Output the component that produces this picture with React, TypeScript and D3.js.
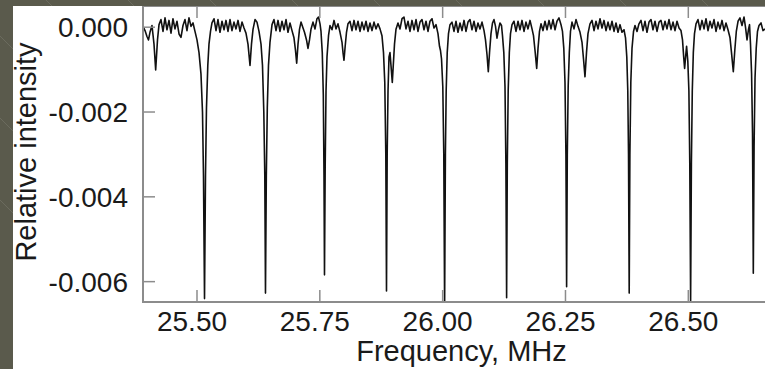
import React from "react";
import * as d3 from "d3";

// Spectrum: [frequency (MHz), relative intensity]
const SPECTRUM: [number, number][] = [
  [25.3901, 0.00002], [25.3942, -0.00008], [25.3982, -0.00022], [25.4013, -0.0003], [25.4043, -0.00012],
  [25.4084, 0.00004], [25.4125, -0.0004], [25.4159, -0.00101], [25.4196, -0.0003], [25.4227, 0.00006],
  [25.4267, 0.00018], [25.4308, -0.0001], [25.4349, 0.00022], [25.4389, -0.00006], [25.443, 0.00016],
  [25.4471, -0.00014], [25.4511, 0.0002], [25.4552, -0.00004], [25.4593, 0.00014], [25.4634, -0.00016],
  [25.4674, -0.00024], [25.4715, 0.00004], [25.4756, 0.00018], [25.4796, -0.00008], [25.4837, 0.00022],
  [25.4878, 0.00002], [25.4919, 0.0001], [25.4959, -0.0001], [25.5, -0.0003], [25.5041, -0.0006],
  [25.5081, -0.0011], [25.5112, -0.002], [25.5132, -0.0035], [25.5153, -0.0064], [25.5173, -0.0035],
  [25.5193, -0.0019], [25.522, -0.0009], [25.5244, -0.0004], [25.5275, -0.0001], [25.5305, 0.0001],
  [25.5346, 0.0002], [25.5387, -0.00008], [25.5427, 0.00018], [25.5468, -0.00012], [25.5509, 0.00014],
  [25.555, -0.00006], [25.559, 0.00016], [25.5631, -0.0001], [25.5672, 0.00018], [25.5712, -0.00008],
  [25.5753, 0.00012], [25.5794, -0.00004], [25.5835, 0.00016], [25.5875, -0.0001], [25.5916, 0.00012],
  [25.5957, -0.00002], [25.5997, -0.00014], [25.6038, -0.0004], [25.6079, -0.0009], [25.6109, -0.0004],
  [25.614, -0.00005], [25.6181, 0.00018], [25.6221, 0.00012], [25.6262, -0.0001], [25.6303, -0.0004],
  [25.6333, -0.0009], [25.636, -0.002], [25.638, -0.0035], [25.6394, -0.00627], [25.6411, -0.0035],
  [25.6431, -0.0019], [25.6455, -0.0009], [25.6486, -0.00035], [25.6527, 0.00006], [25.6567, 0.00018],
  [25.6608, -0.00008], [25.6649, 0.00016], [25.6689, -0.0001], [25.673, 0.00014], [25.6771, -0.00006],
  [25.6812, 0.00018], [25.6852, -0.00012], [25.6893, 0.0001], [25.6934, -0.00008], [25.6974, -0.00025],
  [25.7005, -0.00055], [25.7029, -0.00085], [25.7056, -0.0004], [25.7086, -0.00005], [25.7117, 0.00012],
  [25.7158, -0.00002], [25.7188, -0.00012], [25.7229, -0.0003], [25.7259, -0.0005], [25.729, -0.0003],
  [25.732, -0.00005], [25.7361, 0.00012], [25.7402, -0.00004], [25.7442, 0.0002], [25.7473, 0.00024],
  [25.7504, 0.00008], [25.7524, -0.0001], [25.755, -0.0006], [25.7571, -0.0016], [25.7585, -0.0035],
  [25.7595, -0.00584], [25.7609, -0.0033], [25.7626, -0.0015], [25.7646, -0.0007], [25.7677, -0.0002],
  [25.7707, 0.00004], [25.7748, -0.00006], [25.7789, 0.00016], [25.7829, -0.00004], [25.787, 0.00008],
  [25.7911, -0.00012], [25.7951, -0.00035], [25.7972, -0.0006], [25.7992, -0.00078], [25.8016, -0.00045],
  [25.8043, -0.00012], [25.8073, 0.00008], [25.8114, 0.00014], [25.8155, -0.00008], [25.8196, 0.00016],
  [25.8236, -0.00006], [25.8277, 0.00014], [25.8318, -0.0001], [25.8358, 0.00012], [25.8399, -0.00006],
  [25.844, 0.00014], [25.8481, -0.0001], [25.8521, 0.0001], [25.8562, -0.00008], [25.8603, 0.00012],
  [25.8643, -0.00004], [25.8684, 0.00008], [25.8725, -0.00004], [25.8765, -0.0002], [25.8796, -0.0006],
  [25.8822, -0.0013], [25.8843, -0.003], [25.8857, -0.00622], [25.8871, -0.003], [25.8888, -0.0015],
  [25.8908, -0.0007], [25.8928, -0.0006], [25.8955, -0.001], [25.8975, -0.0013], [25.8995, -0.0009],
  [25.902, -0.0004], [25.905, -0.00005], [25.9091, 0.0001], [25.9132, -0.00004], [25.9173, 0.0002],
  [25.9213, 0.00024], [25.9254, -0.00004], [25.9295, 0.00014], [25.9335, -0.0001], [25.9376, 0.00016],
  [25.9417, -0.00006], [25.9458, 0.00018], [25.9498, -0.0001], [25.9539, 0.00012], [25.958, 0.00018],
  [25.962, -0.00006], [25.9661, 0.00014], [25.9702, -0.0001], [25.9742, 0.00014], [25.9783, 0.0002],
  [25.9824, -0.00002], [25.9865, 0.00006], [25.9905, -0.00015], [25.9936, -0.00045], [25.9956, -0.00055],
  [25.9977, -0.00075], [26.0003, -0.0014], [26.0023, -0.003], [26.004, -0.0066], [26.0056, -0.003],
  [26.0072, -0.0015], [26.0093, -0.0006], [26.0119, -0.00015], [26.015, 0.00006], [26.019, 0.00012],
  [26.0231, -0.0001], [26.0272, 0.00014], [26.0312, -0.00012], [26.0353, 0.0001], [26.0394, -0.00008],
  [26.0435, 0.00016], [26.0475, -0.0001], [26.0516, 0.00012], [26.0557, 0.00018], [26.0597, -0.00006],
  [26.0638, 0.00014], [26.0679, -0.0001], [26.0719, 0.0001], [26.076, -0.00004], [26.0801, 0.00012],
  [26.0842, -0.00008], [26.0872, -0.0003], [26.0903, -0.00065], [26.0929, -0.00105], [26.0954, -0.0006],
  [26.0984, -0.00015], [26.1015, 0.0001], [26.1045, 0.00018], [26.1076, 0.00002], [26.1106, -0.00026],
  [26.1137, -0.00005], [26.1167, 0.0001], [26.1198, 0.00004], [26.1218, -0.0002], [26.1245, -0.0006],
  [26.1269, -0.0014], [26.1287, -0.0032], [26.1302, -0.00638], [26.1316, -0.0032], [26.1334, -0.0015],
  [26.1357, -0.0006], [26.1381, -0.00015], [26.1412, 0.00006], [26.1452, 0.00014], [26.1493, -0.0001],
  [26.1534, 0.00014], [26.1574, -0.00006], [26.1615, 0.00016], [26.1656, -0.0001], [26.1696, 0.00012],
  [26.1737, -0.00004], [26.1778, 0.00016], [26.1819, -0.00004], [26.1849, -0.0002], [26.188, -0.00055],
  [26.1914, -0.00097], [26.1941, -0.0005], [26.1971, -0.0001], [26.2002, 0.00008], [26.2042, -0.00008],
  [26.2083, 0.00014], [26.2124, -0.00006], [26.2165, 0.00016], [26.2205, -0.00004], [26.2246, 0.00018],
  [26.2287, -0.00006], [26.2327, 0.00014], [26.2368, 0.00022], [26.2409, 0.00006], [26.2439, -0.0001],
  [26.2466, -0.0005], [26.249, -0.0013], [26.2509, -0.003], [26.2523, -0.00612], [26.2537, -0.003],
  [26.2555, -0.0014], [26.2578, -0.0006], [26.2602, -0.0001], [26.2633, 0.00012], [26.2673, -0.00004],
  [26.2714, 0.00018], [26.2755, 0.00002], [26.2796, -0.00012], [26.2836, -0.00035], [26.2867, -0.00075],
  [26.2897, -0.00117], [26.2928, -0.0006], [26.2958, -0.00015], [26.2999, 0.00008], [26.304, 0.00016],
  [26.3081, -0.00008], [26.3121, 0.00014], [26.3162, -0.00004], [26.3203, 0.0002], [26.3243, -0.00002],
  [26.3284, 0.00016], [26.3325, -0.00008], [26.3366, 0.00012], [26.3406, -0.00006], [26.3447, 0.00014],
  [26.3488, -0.0001], [26.3528, 0.0001], [26.3569, -0.00012], [26.361, 0.00006], [26.365, -0.00012],
  [26.3691, -0.00006], [26.3722, -0.00025], [26.3748, -0.0007], [26.3768, -0.0015], [26.3783, -0.003],
  [26.3797, -0.00627], [26.3811, -0.003], [26.383, -0.0013], [26.3854, -0.0005], [26.3885, -0.0001],
  [26.3915, 0.00004], [26.3956, -0.0001], [26.3996, 0.00008], [26.4037, 0.00016], [26.4078, -0.00008],
  [26.4119, 0.00014], [26.4159, -0.00012], [26.42, 0.00012], [26.4241, 0.00018], [26.4281, -0.00006],
  [26.4322, 0.00014], [26.4363, -0.0001], [26.4404, 0.00012], [26.4444, 0.00016], [26.4485, -0.00006],
  [26.4526, 0.00014], [26.4566, -0.00004], [26.4607, 0.00018], [26.4648, -0.00006], [26.4689, 0.00012],
  [26.4729, -0.00008], [26.477, 0.00014], [26.4811, -0.00002], [26.4851, -0.00008], [26.4882, -0.0003],
  [26.4906, -0.0007], [26.4925, -0.00097], [26.4945, -0.0007], [26.4965, -0.00045], [26.499, -0.0008],
  [26.5012, -0.0015], [26.503, -0.0032], [26.5047, -0.00645], [26.5063, -0.0032], [26.5081, -0.0015],
  [26.5102, -0.0006], [26.5126, -0.00015], [26.5157, 0.00008], [26.5197, 0.00018], [26.5238, -0.00006],
  [26.5279, 0.00016], [26.532, -0.00004], [26.536, 0.0002], [26.5401, -0.00008], [26.5442, 0.00014],
  [26.5482, -0.00002], [26.5523, 0.00018], [26.5564, -0.0001], [26.5604, 0.00012], [26.5645, -0.00004],
  [26.5686, 0.00016], [26.5727, -0.00008], [26.5767, 0.0001], [26.5808, -0.00006], [26.5849, -0.00025],
  [26.5879, -0.0006], [26.5916, -0.00105], [26.5946, -0.00055], [26.5977, -0.0001], [26.6012, 0.00014],
  [26.6052, 0.00022], [26.6093, 0.00004], [26.6134, 0.00024], [26.6164, 0.0], [26.6195, -0.0003],
  [26.6225, -0.00005], [26.6246, 0.00006], [26.6266, -0.0004], [26.6288, -0.0011], [26.6307, -0.0025],
  [26.6323, -0.0058], [26.6339, -0.0028], [26.6358, -0.0012], [26.6382, -0.0005], [26.6408, -0.0001],
  [26.6439, 0.00004], [26.648, 0.0001], [26.652, -0.00008], [26.6561, -0.00004],
];

const X_DOMAIN = [25.3901, 26.6561];
const Y_DOMAIN = [-0.00648, 0.0005];
const X_TICKS = [25.5, 25.75, 26.0, 26.25, 26.5];
const X_TICK_LABELS = ["25.50", "25.75", "26.00", "26.25", "26.50"];
const Y_TICKS = [0, -0.002, -0.004, -0.006];
const Y_TICK_LABELS = ["0.000", "-0.002", "-0.004", "-0.006"];
const X_TITLE = "Frequency, MHz";
const Y_TITLE = "Relative intensity";

const W = 765;
const H = 369;
const PLOT = { left: 143, right: 765, top: 6, bottom: 302 };
const FONT = "'Liberation Sans', Arial, Helvetica, sans-serif";
const AXIS = "#8c8c8c";
const BG = "#5a5a4c";
const STRIPES = [-200, -118, -36, 46, 128, 210, 292, 374, 456, 538, 620, 702];

export default function App() {
  const x = d3.scaleLinear().domain(X_DOMAIN).range([PLOT.left, PLOT.right]);
  const y = d3.scaleLinear().domain(Y_DOMAIN).range([PLOT.bottom, PLOT.top]);
  const line = d3
    .line<[number, number]>()
    .x((d) => x(d[0]))
    .y((d) => y(d[1]));

  return (
    <svg
      width={W}
      height={H}
      viewBox={`0 0 ${W} ${H}`}
      style={{ position: "absolute", left: 0, top: 0, display: "block" }}
    >
      <defs>
        <clipPath id="plotclip">
          <rect x={PLOT.left} y={PLOT.top} width={PLOT.right - PLOT.left} height={PLOT.bottom - PLOT.top - 1} />
        </clipPath>
      </defs>
      <rect x={0} y={0} width={W} height={H} fill={BG} />
      {STRIPES.map((s, i) => (
        <line key={i} x1={s} y1={0} x2={s + 420} y2={420} stroke="#77776a" strokeWidth={1} opacity={0.6} />
      ))}
      <rect x={13} y={6} width={W - 13} height={H - 6} fill="#ffffff" />

      <path
        d={line(SPECTRUM) || ""}
        fill="none"
        stroke="#111"
        strokeWidth={1.6}
        strokeLinejoin="round"
        clipPath="url(#plotclip)"
      />

      {/* axes */}
      <line x1={PLOT.left} y1={PLOT.top} x2={PLOT.left} y2={PLOT.bottom + 1} stroke={AXIS} strokeWidth={2} />
      <line x1={PLOT.left - 1} y1={PLOT.bottom} x2={PLOT.right} y2={PLOT.bottom} stroke={AXIS} strokeWidth={2} />
      <line x1={PLOT.left} y1={PLOT.top + 0.5} x2={PLOT.right} y2={PLOT.top + 0.5} stroke={AXIS} strokeWidth={1} />

      {X_TICKS.map((t, i) => (
        <g key={"xt" + i}>
          <line x1={x(t)} y1={PLOT.bottom} x2={x(t)} y2={PLOT.bottom - 12} stroke={AXIS} strokeWidth={1.5} />
          <line x1={x(t)} y1={PLOT.top} x2={x(t)} y2={PLOT.top + 12} stroke={AXIS} strokeWidth={1.5} />
          <text
            x={x(t) - 5}
            y={331}
            textAnchor="middle"
            fontFamily={FONT}
            fontSize={28}
            fill="#1a1a1a"
          >
            {X_TICK_LABELS[i]}
          </text>
        </g>
      ))}

      {Y_TICKS.map((t, i) => (
        <g key={"yt" + i}>
          <line x1={PLOT.left} y1={y(t)} x2={PLOT.left + 12} y2={y(t)} stroke={AXIS} strokeWidth={1.5} />
          <text
            x={128}
            y={y(t)}
            dy="0.36em"
            textAnchor="end"
            fontFamily={FONT}
            fontSize={28}
            fill="#1a1a1a"
          >
            {Y_TICK_LABELS[i]}
          </text>
        </g>
      ))}

      <text x={461.5} y={361} textAnchor="middle" fontFamily={FONT} fontSize={29} fill="#1a1a1a">
        {X_TITLE}
      </text>
      <text
        transform={`translate(36, 152) rotate(-90)`}
        textAnchor="middle"
        fontFamily={FONT}
        fontSize={29}
        fill="#1a1a1a"
      >
        {Y_TITLE}
      </text>
    </svg>
  );
}
